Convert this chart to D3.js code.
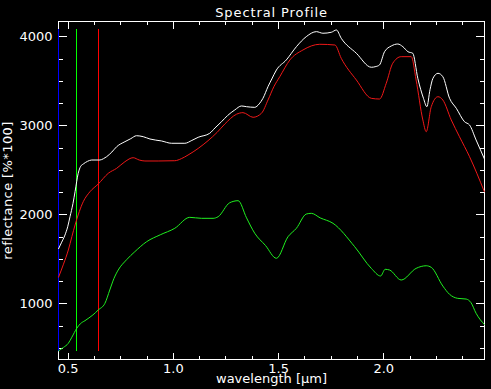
<!DOCTYPE html>
<html>
<head>
<meta charset="utf-8">
<script src="https://cdn.jsdelivr.net/npm/d3@7"></script>
<style>
  body { margin: 0; background: #000; }
  svg { display: block; }
  text { font-family: "DejaVu Sans", sans-serif; fill: #fff; }
</style>
</head>
<body>
<div id="chart"></div>
<script>
// spectra, [wavelength um, reflectance %*100]
var whiteSpec = [[0.456,1610],[0.470,1680],[0.487,1767],[0.500,1860],[0.511,1973],[0.525,2120],[0.535,2254],[0.550,2461],[0.562,2540],[0.574,2565],[0.594,2595],[0.614,2610],[0.653,2610],[0.670,2625],[0.685,2647],[0.710,2700],[0.733,2760],[0.772,2816],[0.800,2850],[0.827,2883],[0.859,2872],[0.891,2846],[0.946,2824],[0.994,2798],[1.057,2798],[1.090,2830],[1.120,2865],[1.175,2910],[1.200,2970],[1.231,3040],[1.260,3110],[1.294,3172],[1.326,3217],[1.350,3209],[1.389,3202],[1.410,3240],[1.428,3303],[1.452,3434],[1.470,3520],[1.492,3621],[1.539,3734],[1.587,3883],[1.634,3996],[1.682,4052],[1.713,4034],[1.753,4045],[1.777,4071],[1.800,3978],[1.872,3809],[1.943,3652],[1.965,3660],[1.982,3678],[2.006,3827],[2.038,3891],[2.069,3913],[2.093,3883],[2.117,3827],[2.140,3809],[2.164,3528],[2.191,3303],[2.207,3209],[2.222,3400],[2.236,3528],[2.260,3584],[2.283,3546],[2.315,3303],[2.347,3191],[2.386,3040],[2.410,3003],[2.441,2835],[2.481,2620]];

var redSpec = [[0.456,1290],[0.480,1440],[0.503,1599],[0.520,1750],[0.535,1880],[0.555,2030],[0.574,2142],[0.606,2254],[0.645,2340],[0.693,2461],[0.733,2517],[0.772,2591],[0.811,2636],[0.840,2610],[0.867,2599],[0.930,2599],[1.009,2602],[1.040,2625],[1.072,2666],[1.120,2740],[1.167,2827],[1.210,2920],[1.247,3015],[1.302,3124],[1.333,3142],[1.381,3090],[1.421,3135],[1.452,3284],[1.480,3434],[1.508,3546],[1.556,3734],[1.618,3846],[1.698,3910],[1.770,3902],[1.800,3753],[1.872,3509],[1.943,3303],[1.982,3295],[2.014,3472],[2.045,3697],[2.085,3771],[2.133,3771],[2.156,3509],[2.188,3060],[2.204,2928],[2.228,3209],[2.260,3321],[2.283,3284],[2.323,3060],[2.362,2872],[2.410,2647],[2.481,2250]];

var greenSpec = [[0.456,464],[0.480,505],[0.503,551],[0.520,620],[0.543,719],[0.560,770],[0.582,805],[0.620,870],[0.645,925],[0.677,1000],[0.700,1150],[0.720,1280],[0.740,1374],[0.780,1490],[0.819,1580],[0.875,1692],[0.940,1770],[1.009,1843],[1.080,1966],[1.136,1955],[1.191,1955],[1.215,1973],[1.270,2130],[1.310,2153],[1.350,1960],[1.389,1787],[1.440,1650],[1.492,1506],[1.547,1748],[1.587,1843],[1.634,2003],[1.658,2011],[1.700,1960],[1.761,1899],[1.864,1636],[1.943,1393],[1.987,1307],[2.009,1382],[2.030,1374],[2.085,1262],[2.156,1393],[2.204,1422],[2.228,1404],[2.283,1194],[2.315,1101],[2.354,1056],[2.394,1048],[2.417,1007],[2.441,888],[2.481,760]];

// band marker lines (blue, green, red)
var bands = [0.4565, 0.543, 0.647];
var bandColors = ["#0000ff", "#00ff00", "#ff0000"];
var bandRange = [464, 4082];

var xTicks = [0.5, 1.0, 1.5, 2.0];
var yTicks = [1000, 2000, 3000, 4000];

var W = 491, H = 389;
var mLeft = 58.5, mTop = 21.5, mRight = 484.5, mBottom = 359.5;
var width = mRight - mLeft, height = mBottom - mTop;

var svg = d3.select("#chart").append("svg").attr("width", W).attr("height", H);

var x = d3.scaleLinear().domain([0.4563, 2.481]).range([0, width]);
var y = d3.scaleLinear().domain([369, 4166]).range([height, 0]);

var xMinor = d3.range(0.5, 2.48, 0.125);
var yMinor = d3.range(500, 4166, 250);

var g = svg.append("g").attr("transform", "translate(" + mLeft + "," + mTop + ")");

function drawAxis(axis, tx, ty) {
  var a = g.append("g").attr("transform", "translate(" + tx + "," + ty + ")").call(axis);
  a.select(".domain").remove();
  a.selectAll("line").attr("stroke", "#fff").attr("shape-rendering", "crispEdges");
  a.selectAll("text").attr("fill", "#fff").style("font-size", "13px").style("font-family", "DejaVu Sans, sans-serif");
  return a;
}

// bottom
drawAxis(d3.axisBottom(x).tickValues(xMinor).tickSize(-3.5).tickFormat(""), 0, height);
drawAxis(d3.axisBottom(x).tickValues(xTicks).tickSize(-7).tickPadding(4).tickFormat(d3.format(".1f")), 0, height);
// top
drawAxis(d3.axisTop(x).tickValues(xMinor).tickSize(-3.5).tickFormat(""), 0, 0);
drawAxis(d3.axisTop(x).tickValues(xTicks).tickSize(-7).tickFormat(""), 0, 0);
// left
drawAxis(d3.axisLeft(y).tickValues(yMinor).tickSize(-4.5).tickFormat(""), 0, 0);
drawAxis(d3.axisLeft(y).tickValues(yTicks).tickSize(-8.5).tickPadding(6).tickFormat(d3.format("d")), 0, 0);
// right
drawAxis(d3.axisRight(y).tickValues(yMinor).tickSize(-4.5).tickFormat(""), width, 0);
drawAxis(d3.axisRight(y).tickValues(yTicks).tickSize(-8.5).tickFormat(""), width, 0);

g.append("rect")
  .attr("x", 0).attr("y", 0).attr("width", width).attr("height", height)
  .attr("fill", "none").attr("stroke", "#fff").attr("shape-rendering", "crispEdges");

// band markers
g.selectAll("line.band")
  .data(bands)
  .enter().append("line")
  .attr("class", "band")
  .attr("x1", function(d) { return Math.round(x(d)); })
  .attr("x2", function(d) { return Math.round(x(d)); })
  .attr("y1", y(bandRange[0]))
  .attr("y2", y(bandRange[1]))
  .attr("stroke", function(d, i) { return bandColors[i]; })
  .attr("shape-rendering", "crispEdges");

var line = d3.line()
  .x(function(d) { return x(d[0]); })
  .y(function(d) { return y(d[1]); })
  .curve(d3.curveMonotoneX);

var specs = [whiteSpec, redSpec, greenSpec];
var specColors = ["#ffffff", "#f01818", "#20f020"];

g.selectAll("path.spec")
  .data(specs)
  .enter().append("path")
  .attr("class", "spec")
  .attr("d", line)
  .attr("fill", "none")
  .attr("stroke", function(d, i) { return specColors[i]; })
  .attr("stroke-width", 1);

svg.append("text")
  .attr("x", (mLeft + mRight) / 2).attr("y", 17)
  .attr("text-anchor", "middle")
  .style("font-size", "13px")
  .style("letter-spacing", "0.9px")
  .text("Spectral Profile");

svg.append("text")
  .attr("x", (mLeft + mRight) / 2).attr("y", 383)
  .attr("text-anchor", "middle")
  .style("font-size", "13px")
  .text("wavelength [\u03bcm]");

svg.append("text")
  .attr("transform", "translate(12," + ((mTop + mBottom) / 2) + ") rotate(-90)")
  .attr("text-anchor", "middle")
  .style("font-size", "13px")
  .style("letter-spacing", "0.4px")
  .text("reflectance [%*100]");
</script>
</body>
</html>
